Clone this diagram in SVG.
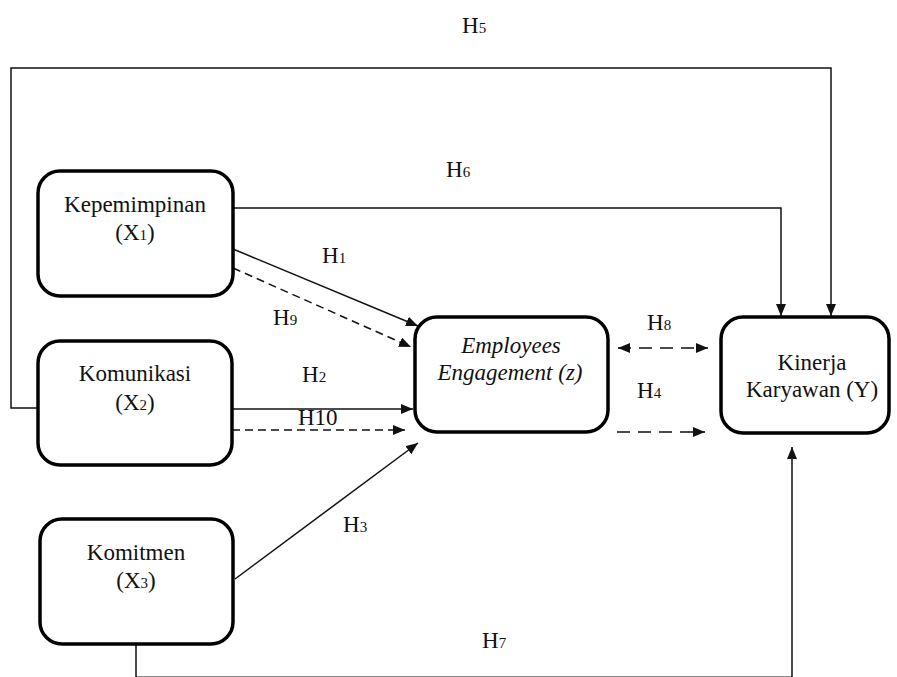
<svg xmlns="http://www.w3.org/2000/svg" width="897" height="677" viewBox="0 0 897 677">
<defs>
<marker id="ah" markerUnits="userSpaceOnUse" markerWidth="12" markerHeight="10" refX="12" refY="5" orient="auto-start-reverse" viewBox="0 0 12 10">
<path d="M0,0 L12,5 L0,10 z" fill="#111"/>
</marker>
<style>
.box{fill:#fff;stroke:#000;stroke-width:3.5}
.t{font-family:"Liberation Serif","Times New Roman",serif;font-size:23px;fill:#111;text-anchor:middle}
.lbl{font-family:"Liberation Serif","Times New Roman",serif;font-size:23px;fill:#111}
.sub{font-size:15px}
.ln{fill:none;stroke:#111;stroke-width:1.5}
.arr{marker-end:url(#ah)}
.d1{stroke-dasharray:8 5}
.d2{stroke-dasharray:13 8}
</style>
</defs>
<rect width="897" height="677" fill="#fff"/>
<g id="connectors">
<polyline class="ln arr" points="38,408 11,408 11,68 831,68 831,316"/>
<polyline class="ln arr" points="233,208 781,208 781,316"/>
<line class="ln arr" x1="233" y1="249" x2="418" y2="326"/>
<line class="ln arr d1" x1="233" y1="268" x2="411" y2="347"/>
<line class="ln arr" x1="232" y1="409" x2="413" y2="409"/>
<line class="ln arr d1" x1="232" y1="430" x2="405" y2="430"/>
<line class="ln arr" x1="235" y1="579" x2="418" y2="443"/>
<line class="ln arr d2" x1="618" y1="348" x2="708" y2="348" marker-start="url(#ah)"/>
<line class="ln arr d2" x1="617" y1="432" x2="705" y2="432"/>
<polyline class="ln arr" points="136,644 136,677.3 792,677.3 792,447"/>
</g>
<g id="labels">
<text class="lbl" x="462" y="33">H<tspan class="sub">5</tspan></text>
<text class="lbl" x="446" y="177">H<tspan class="sub">6</tspan></text>
<text class="lbl" x="322" y="263">H<tspan class="sub">1</tspan></text>
<text class="lbl" x="273" y="325">H<tspan class="sub">9</tspan></text>
<text class="lbl" x="302" y="382">H<tspan class="sub">2</tspan></text>
<text class="lbl" x="298" y="425">H10</text>
<text class="lbl" x="343" y="532">H<tspan class="sub">3</tspan></text>
<text class="lbl" x="647" y="330">H<tspan class="sub">8</tspan></text>
<text class="lbl" x="637" y="398">H<tspan class="sub">4</tspan></text>
<text class="lbl" x="482" y="648">H<tspan class="sub">7</tspan></text>
</g>
<g id="kepemimpinan">
<rect class="box" x="38" y="171" width="195" height="125" rx="22"/>
<text class="t" x="135" y="212">Kepemimpinan</text>
<text class="t" x="135" y="240">(X<tspan class="sub">1</tspan>)</text>
</g>
<g id="komunikasi">
<rect class="box" x="38" y="341" width="194" height="124" rx="22"/>
<text class="t" x="135" y="381">Komunikasi</text>
<text class="t" x="135" y="410">(X<tspan class="sub">2</tspan>)</text>
</g>
<g id="komitmen">
<rect class="box" x="40" y="519" width="193" height="125" rx="22"/>
<text class="t" x="136" y="560">Komitmen</text>
<text class="t" x="136" y="588">(X<tspan class="sub">3</tspan>)</text>
</g>
<g id="employees-engagement">
<rect class="box" x="415" y="317" width="193" height="115" rx="22"/>
<text class="t" x="511" y="353" font-style="italic">Employees</text>
<text class="t" x="510" y="380" font-style="italic">Engagement (z)</text>
</g>
<g id="kinerja">
<rect class="box" x="721" y="317" width="168" height="116" rx="22"/>
<text class="t" x="812" y="370">Kinerja</text>
<text class="t" x="812" y="397">Karyawan (Y)</text>
</g>
</svg>
